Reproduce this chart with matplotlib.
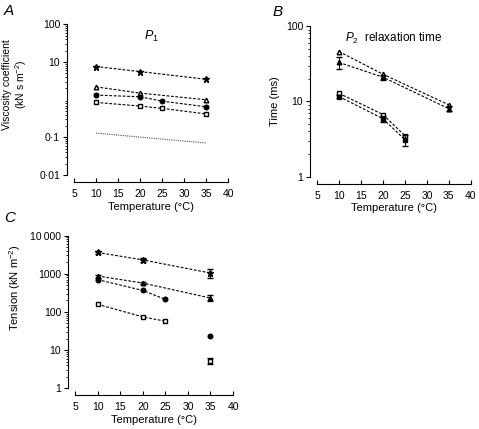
import matplotlib
matplotlib.use('Agg')

import matplotlib.pyplot as plt
from matplotlib.ticker import FixedLocator, LogLocator, NullFormatter

plt.rcParams['font.family'] = ['Liberation Sans', 'DejaVu Sans']
plt.rcParams['mathtext.fontset'] = 'custom'
plt.rcParams['mathtext.rm'] = 'Liberation Sans'
plt.rcParams['mathtext.it'] = 'Liberation Sans:italic'

# Datos
# (A) coeficiente de viscosidad, P1
a_star_t = [10, 20, 35]
a_star_v = [7.6, 5.6, 3.5]
a_tri_t = [10, 20, 35]
a_tri_v = [2.2, 1.5, 1.0]
a_circ_t = [10, 20, 25, 35]
a_circ_v = [1.33, 1.2, 0.92, 0.65]
a_sq_t = [10, 20, 25, 35]
a_sq_v = [0.85, 0.68, 0.59, 0.42]
a_dot_t = [10, 35]
a_dot_v = [0.13, 0.071]

# (B) tiempo de relajación P2
b_otri_t = [10, 20, 35]
b_otri_v = [46, 23, 9.0]
b_ftri_t = [10, 20, 35]
b_ftri_v = [33, 21, 8.0]
b_ftri_err = [6, 1.5, 0.6]
b_osq_t = [10, 20, 25]
b_osq_v = [12.8, 6.7, 3.5]
b_fcirc_t = [10, 20, 25]
b_fcirc_v = [11.6, 5.9, 3.1]
b_fcirc_err = [0.6, 0.6, 0.5]

# (C) tensión
c_star_t = [10, 20, 35]
c_star_v = [3600, 2300, 1040]
c_star_err = [300, 250, 250]
c_tri_t = [10, 20, 35]
c_tri_v = [870, 570, 230]
c_tri_err = [80, 40, 40]
c_circ_t = [10, 20, 25]
c_circ_v = [700, 365, 213]
c_sq_t = [10, 20, 25]
c_sq_v = [158, 74, 57]
c_circ35_v = 23
c_sq35_v = 5.2
c_sq35_err = 1.0

temp_ticks = [5, 10, 15, 20, 25, 30, 35, 40]

fig = plt.figure(figsize=(4.79, 4.29), dpi=100)
axA = fig.add_axes([0.1545, 0.592, 0.3215, 0.351])
axB = fig.add_axes([0.662, 0.588, 0.321, 0.351])
axC = fig.add_axes([0.1566, 0.095, 0.33, 0.356])

ms = 3.3
dash = dict(color='black', lw=0.8, ls=(0, (2.5, 1.5)))
barras = dict(ecolor='black', elinewidth=0.7, capsize=2)


def estilo(ax, ylo, yhi, yticks, ylabels):
    ax.set_yscale('log')
    ax.set_xlim(5, 40)
    ax.set_ylim(ylo, yhi)
    ax.spines['top'].set_visible(False)
    ax.spines['right'].set_visible(False)
    ax.spines['left'].set_position(('outward', 5))
    ax.spines['bottom'].set_position(('outward', 5))
    ax.spines['left'].set_linewidth(0.8)
    ax.spines['bottom'].set_linewidth(0.8)
    ax.set_xticks(temp_ticks)
    ax.tick_params(axis='x', direction='in', length=3, labelsize=7.5, pad=5)
    ax.yaxis.set_major_locator(FixedLocator(yticks))
    ax.set_yticklabels(ylabels)
    ax.yaxis.set_minor_locator(LogLocator(base=10, subs=range(2, 10)))
    ax.yaxis.set_minor_formatter(NullFormatter())
    ax.tick_params(axis='y', which='major', direction='out', length=3, labelsize=7.5, pad=2)
    ax.tick_params(axis='y', which='minor', direction='out', length=1.5)
    ax.set_xlabel('Temperature (°C)', fontsize=8, labelpad=2)


# Panel A
axA.plot(a_star_t, a_star_v, marker='*', ms=ms + 1.5, mfc='black', mec='black', **dash)
axA.plot(a_tri_t, a_tri_v, marker='^', ms=ms, mfc='white', mec='black', **dash)
axA.plot(a_circ_t, a_circ_v, marker='o', ms=ms, mfc='black', mec='black', **dash)
axA.plot(a_sq_t, a_sq_v, marker='s', ms=ms, mfc='white', mec='black', **dash)
axA.plot(a_dot_t, a_dot_v, color='#555555', lw=0.8, ls=(0, (1, 1)))
estilo(axA, 0.01, 100, [0.01, 0.1, 10, 100], ['0\u00b701', '0\u00b71', '10', '100'])
axA.set_ylabel('Viscosity coefficient\n(kN s m$^{-2}$)', fontsize=7.5, linespacing=1.15)
axA.yaxis.set_label_coords(-0.29, 0.6)
axA.text(0.5, 0.97, '$P_1$', transform=axA.transAxes, ha='center', va='top', fontsize=9)

# Panel B
axB.plot(b_otri_t, b_otri_v, marker='^', ms=ms, mfc='white', mec='black', **dash)
axB.errorbar(b_ftri_t, b_ftri_v, yerr=b_ftri_err, marker='^', ms=ms, mfc='black', mec='black',
             **barras, **dash)
axB.plot(b_osq_t, b_osq_v, marker='s', ms=ms, mfc='white', mec='black', **dash)
axB.errorbar(b_fcirc_t, b_fcirc_v, yerr=b_fcirc_err, marker='s', ms=ms, mfc='black', mec='black',
             **barras, **dash)
estilo(axB, 1, 100, [1, 10, 100], ['1', '10', '100'])
axB.set_ylabel('Time (ms)', fontsize=8)
axB.yaxis.set_label_coords(-0.24, 0.5)
axB.text(0.5, 0.97, '$P_2$  relaxation time', transform=axB.transAxes, ha='center', va='top', fontsize=8.5)

# Panel C
axC.errorbar(c_star_t, c_star_v, yerr=c_star_err, marker='*', ms=ms + 1.5, mfc='black', mec='black',
             **barras, **dash)
axC.errorbar(c_tri_t, c_tri_v, yerr=c_tri_err, marker='^', ms=ms, mfc='black', mec='black',
             **barras, **dash)
axC.plot(c_circ_t, c_circ_v, marker='o', ms=ms, mfc='black', mec='black', **dash)
axC.plot(c_sq_t, c_sq_v, marker='s', ms=ms, mfc='white', mec='black', **dash)
axC.plot([35], [c_circ35_v], marker='o', ms=ms, mfc='black', mec='black', ls='none')
axC.errorbar([35], [c_sq35_v], yerr=[c_sq35_err], marker='s', ms=ms, mfc='white', mec='black',
             ls='none', **barras)
estilo(axC, 1, 10000, [1, 10, 100, 1000, 10000], ['1', '10', '100', '1000', '10\u2009000'])
axC.set_ylabel('Tension (kN m$^{-2}$)', fontsize=8)
axC.yaxis.set_label_coords(-0.33, 0.66)

# Letras de los paneles
fig.text(0.008, 0.99, 'A', fontsize=11, style='italic', va='top')
fig.text(0.568, 0.988, 'B', fontsize=11, style='italic', va='top')
fig.text(0.008, 0.508, 'C', fontsize=11, style='italic', va='top')

fig.savefig('out.png', dpi=100)
